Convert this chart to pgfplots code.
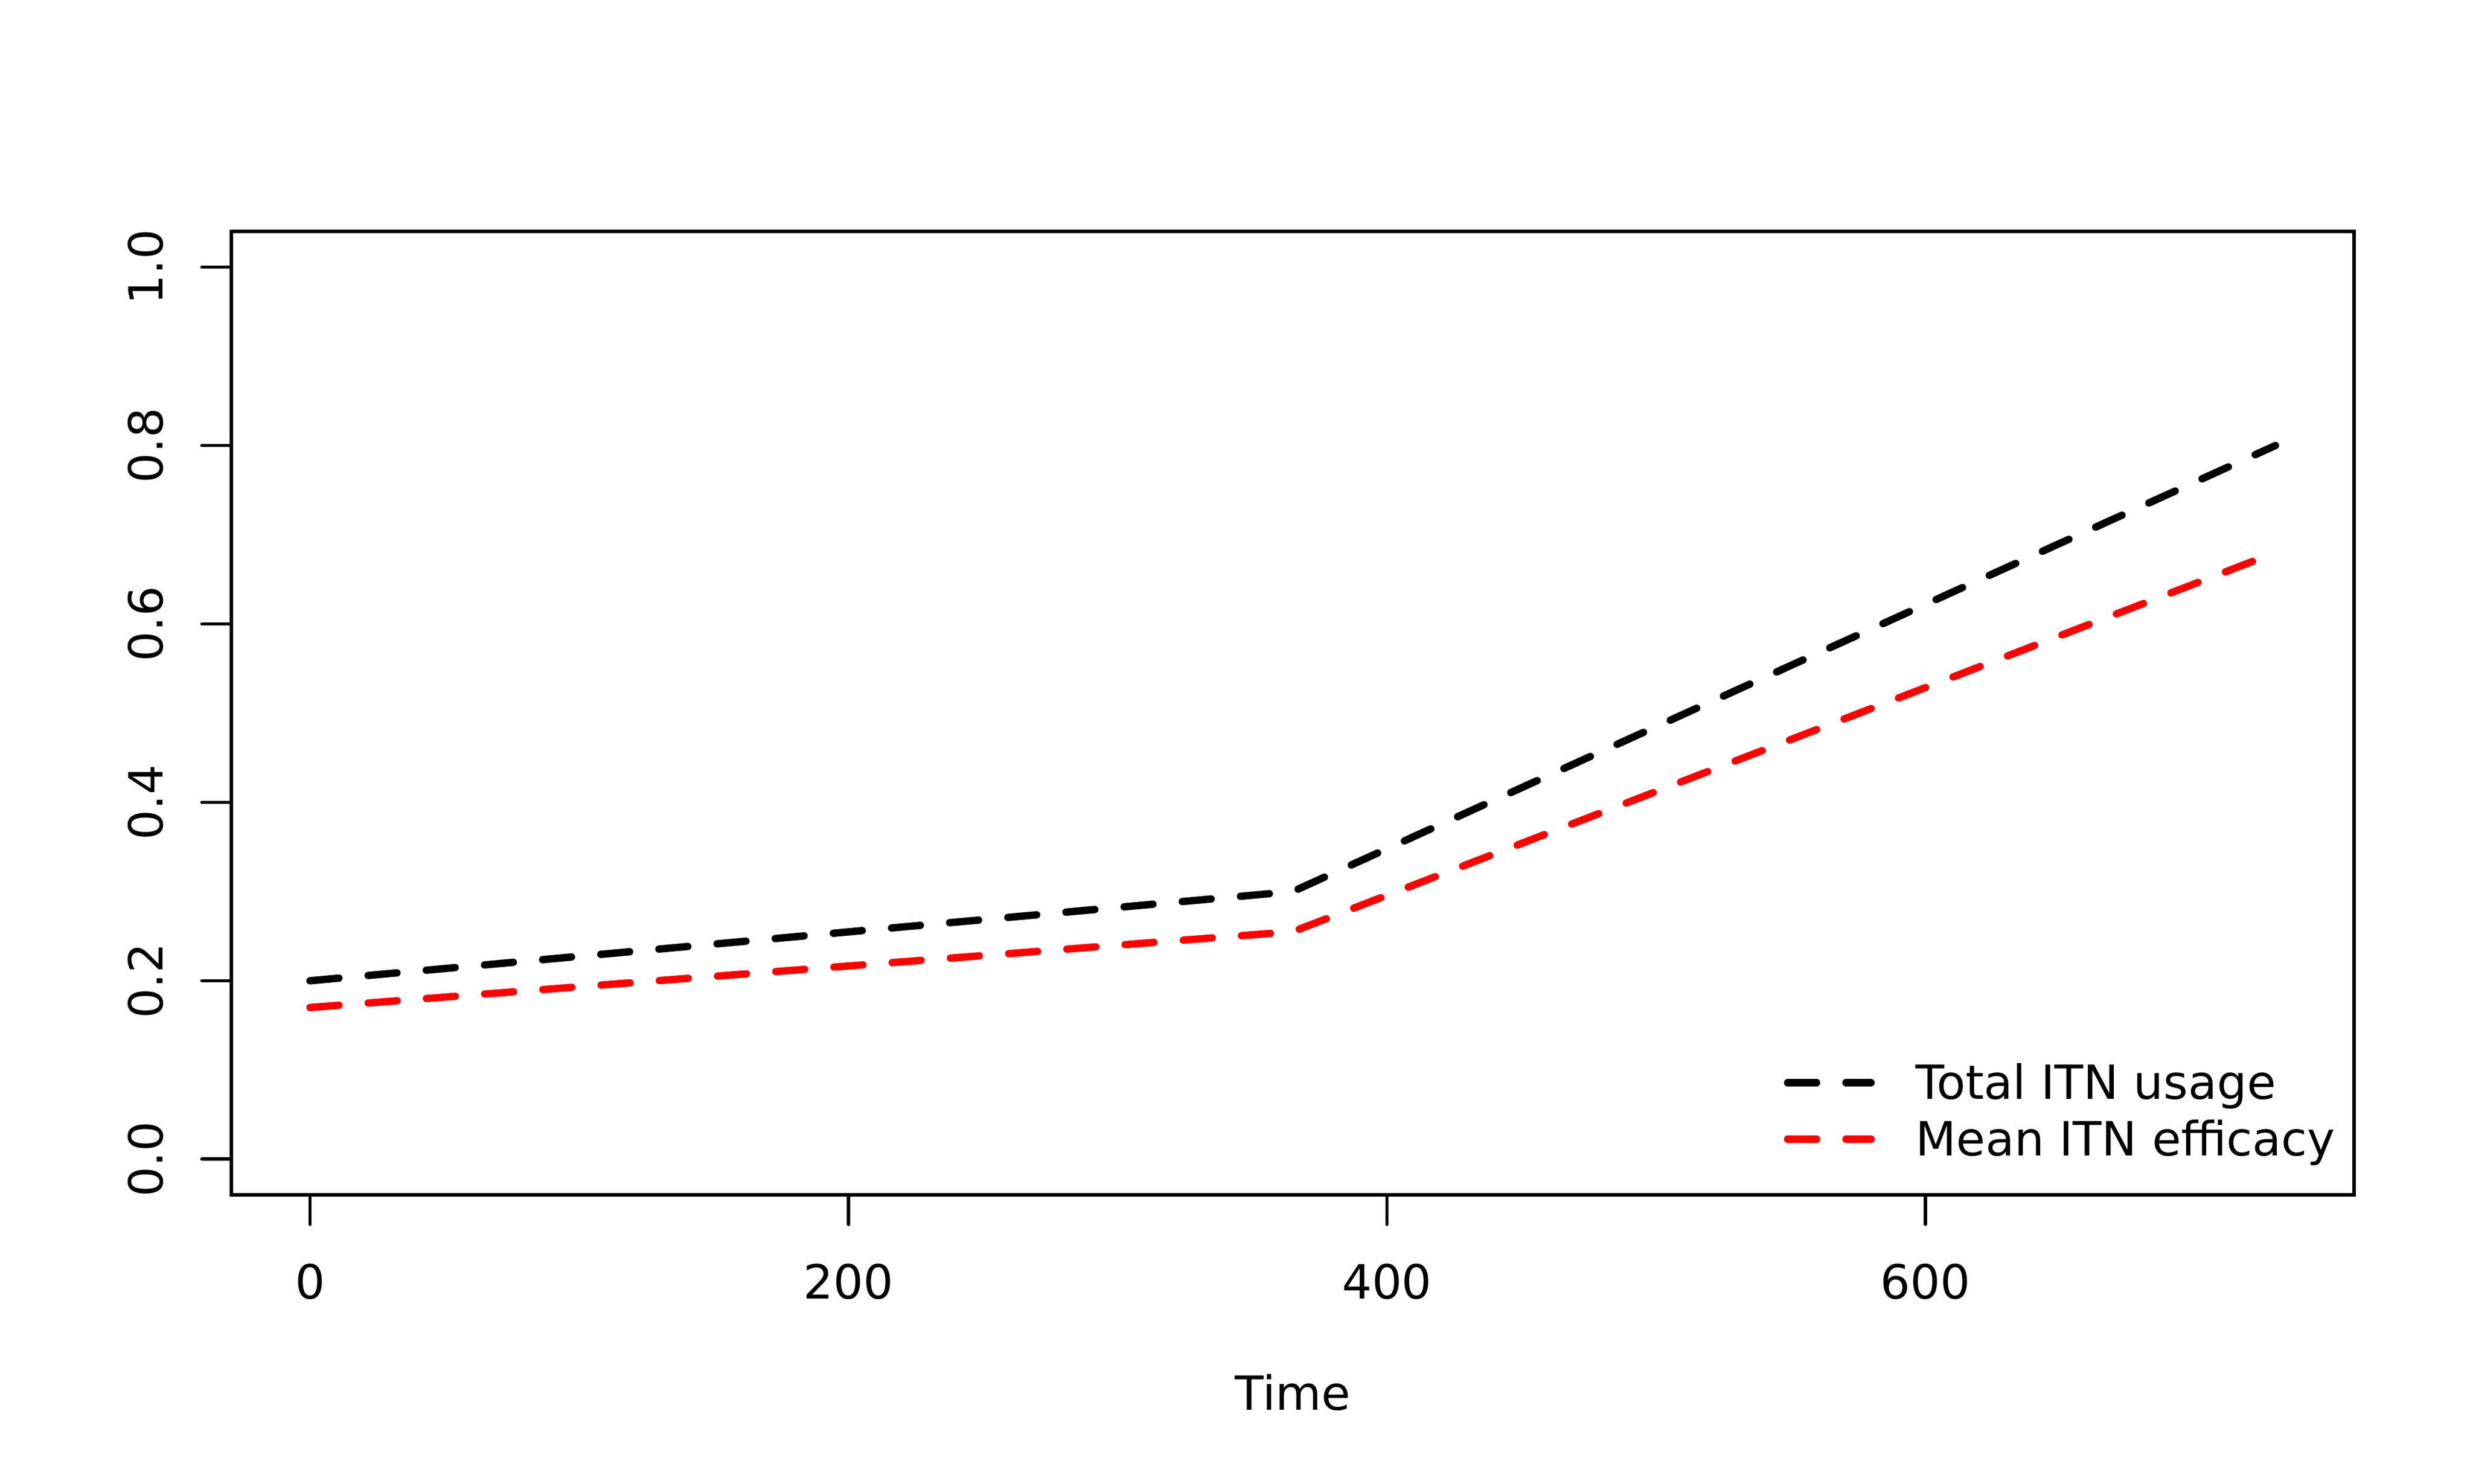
\documentclass[border=0pt]{standalone}
\usepackage{fontspec}
\setmainfont{DejaVu Sans}
\usepackage{pgfplots}
\usepackage{pgfplotstable}
\pgfplotsset{compat=1.18}
\pgfplotstableread{
t usage efficacy
0 0.20 0.170
365 0.30 0.255
730 0.80 0.680
}\itndata
\begin{document}
\begin{tikzpicture}[font=\fontsize{9.6bp}{11.5bp}\selectfont]
\path[use as bounding box] (-47.16bp,-58.92bp) rectangle (456.84bp,243.48bp);
\begin{axis}[
  at={(0,0)}, anchor=south west,
  scale only axis, width=432.6bp, height=196.32bp,
  xmin=-29.2, xmax=759.2, ymin=-0.04, ymax=1.04,
  xtick={0,200,400,600}, ytick={0,0.2,0.4,0.6,0.8,1},
  tick pos=left, tick align=outside, major tick length=6bp,
  every tick/.style={black, line width=0.7bp, line cap=round},
  axis line style={line width=0.7bp},
  /pgf/number format/assume math mode=true,
  yticklabel style={/pgf/number format/fixed, /pgf/number format/fixed zerofill, /pgf/number format/precision=1, rotate=90, anchor=south, inner sep=0pt},
  xticklabel style={anchor=north, inner sep=0pt},
  xticklabel shift=7.9bp, yticklabel shift=7.6bp,
  xlabel={Time},
  every axis x label/.style={at={(axis description cs:0.5,0)}, anchor=base, yshift=-43.9bp, inner sep=0pt},
  legend image code/.code={\draw[#1] (0bp,3.4bp) -- (17.0bp,3.4bp);},
  legend style={at={(axis description cs:0.7314,0.1347)}, anchor=north west, draw=none, fill=none, inner sep=0pt, outer sep=0pt, row sep=2.5bp, column sep=8.4bp, nodes={inner sep=0pt, text height=7bp, text depth=2bp}, cells={anchor=base west}},
]
\addplot[black, line width=1.5bp, dash pattern=on 5.9bp off 6bp, line cap=round, line join=round] table[x=t, y=usage] {\itndata};
\addlegendentry{Total ITN usage}
\addplot[red, line width=1.5bp, dash pattern=on 5.9bp off 6bp, line cap=round, line join=round] table[x=t, y=efficacy] {\itndata};
\addlegendentry{Mean ITN efficacy}
\end{axis}
\end{tikzpicture}
\end{document}
